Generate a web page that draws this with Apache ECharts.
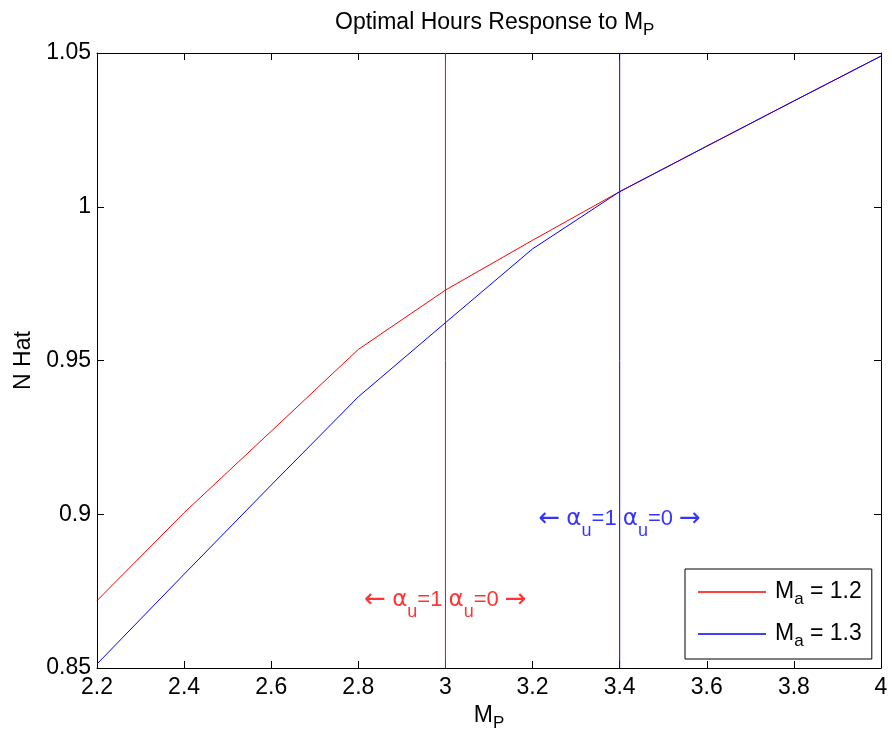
<!DOCTYPE html>
<html>
<head>
<meta charset="utf-8">
<script src="https://cdn.jsdelivr.net/npm/echarts@6/dist/echarts.min.js"></script>
<style>
html,body{margin:0;padding:0;background:#fff;}
#chart{width:892px;height:739px;}
</style>
</head>
<body>
<div id="chart"></div>
<script>
// ---- data ----
var mp = [2.2, 2.4, 2.6, 2.8, 3.0, 3.2, 3.4, 3.6, 3.8, 4.0];
var nHatMa12 = [0.8719, 0.9005, 0.9270, 0.9536, 0.9729, 0.9891, 1.0049, 1.0197, 1.0344, 1.0490];
var nHatMa13 = [0.8513, 0.8805, 0.9095, 0.9382, 0.9623, 0.9863, 1.0049, 1.0197, 1.0344, 1.0490];
var maValues = ['1.2', '1.3'];
var switchPoints = [3.0, 3.4];          // alpha_u switch thresholds (vertical lines)
var annotY = [0.872, 0.8984];           // vertical positions of the annotations
var xTicks = [2.2, 2.4, 2.6, 2.8, 3, 3.2, 3.4, 3.6, 3.8, 4];
var yTicks = [0.85, 0.9, 0.95, 1, 1.05];
var yRange = [0.85, 1.05];
var colors = ['#ff0000', '#0000ff'];

var FONT = "'Liberation Sans', Arial, Helvetica, sans-serif";
var SYM = "'DejaVu Sans', sans-serif";
function zip(xs, ys) { return xs.map(function (x, i) { return [x, ys[i]]; }); }

var chart = echarts.init(document.getElementById('chart'));

var axisCommon = {
  axisLine: { show: true, onZero: false, lineStyle: { color: '#000', width: 1 } },
  axisTick: { show: true, inside: true, length: 7, lineStyle: { color: '#000', width: 1 } },
  splitLine: { show: false }
};

var subRich = {
  m: { fontSize: 23, fontWeight: 'normal', fontFamily: FONT, color: '#000' },
  s: { fontSize: 17, fontWeight: 'normal', fontFamily: FONT, color: '#000', padding: [16, 0, 0, 0] }
};

function annotRich(color) {
  return {
    a: { fontSize: 26, fontFamily: SYM, color: color },
    g: { fontSize: 23, fontFamily: SYM, color: color },
    m: { fontSize: 22, fontFamily: FONT, color: color },
    s: { fontSize: 18, fontFamily: FONT, color: color, padding: [23, 0, 0, 0] }
  };
}

var seriesData = [nHatMa12, nHatMa13];
var series = [];
maValues.forEach(function (ma, i) {
  series.push({
    name: 'Ma = ' + ma,
    type: 'line',
    data: zip(mp, seriesData[i]),
    symbol: 'none',
    showSymbol: false,
    color: colors[i],
    lineStyle: { color: colors[i], width: 1 },
    itemStyle: { color: colors[i] },
    z: 3 + i
  });
  // vertical threshold line
  series.push({
    name: 'switch' + i,
    type: 'line',
    data: [[switchPoints[i], yRange[0]], [switchPoints[i], yRange[1]]],
    symbol: 'none',
    showSymbol: false,
    color: colors[i],
    lineStyle: { color: colors[i], width: 1 },
    silent: true,
    z: 2
  });
  series.push({
    name: 'annot' + i,
    type: 'scatter',
    data: [[switchPoints[i], annotY[i]]],
    symbolSize: 1,
    itemStyle: { color: 'rgba(0,0,0,0)' },
    silent: true,
    z: 10,
    label: {
      show: true,
      position: 'inside',
      fontSize: 22,
      fontFamily: FONT,
      color: colors[i],
      formatter: '{a|\u2190}{m| }{g|\u03b1}{s|u}{m|=1 }{g|\u03b1}{s|u}{m|=0 }{a|\u2192}',
      rich: annotRich(colors[i])
    }
  });
});

var option = {
  animation: false,
  backgroundColor: '#fff',
  textStyle: { fontFamily: FONT },
  title: {
    text: '{m|Optimal Hours Response to M}{s|P}',
    left: 335,
    top: 6,
    padding: 0,
    textStyle: { fontWeight: 'normal', fontSize: 23, rich: subRich }
  },
  grid: { left: 97, right: 11, top: 53, bottom: 71, containLabel: false },
  legend: {
    data: maValues.map(function (m) { return { name: 'Ma = ' + m, icon: 'rect' }; }),
    orient: 'vertical',
    left: 685,
    top: 569,
    padding: [11.5, 10, 9.5, 13],
    itemGap: 15,
    itemWidth: 68,
    itemHeight: 1.5,
    itemStyle: { borderWidth: 0 },
    borderColor: '#000',
    borderWidth: 1,
    borderRadius: 0,
    backgroundColor: '#fff',
    formatter: function (name) {
      return '{p|M}{s|a}{m| = ' + name.replace('Ma = ', '') + '}';
    },
    textStyle: {
      rich: {
        p: { fontSize: 23, fontFamily: FONT, color: '#000', padding: [0, 0, 0, 4] },
        m: { fontSize: 23, fontFamily: FONT, color: '#000' },
        s: { fontSize: 17, fontFamily: FONT, color: '#000', padding: [14, 0, 0, 0] }
      }
    }
  },
  xAxis: [
    Object.assign({
      type: 'value', min: 2.2, max: 4, interval: 0.2, position: 'bottom',
      name: '{m|M}{s|P}', nameLocation: 'middle', nameGap: 31,
      nameTextStyle: { rich: subRich },
      axisLabel: {
        show: true, margin: 8, fontSize: 23, fontFamily: FONT, color: '#000',
        formatter: function (v) {
          var t = xTicks.find(function (x) { return Math.abs(x - v) < 1e-6; });
          return t === undefined ? '' : String(t);
        }
      }
    }, axisCommon),
    Object.assign({
      type: 'value', min: 2.2, max: 4, interval: 0.2, position: 'top',
      axisLabel: { show: false }
    }, axisCommon)
  ],
  yAxis: [
    Object.assign({
      type: 'value', min: 0.85, max: 1.05, interval: 0.05, position: 'left',
      name: 'N Hat', nameLocation: 'middle', nameGap: 59,
      nameTextStyle: { fontSize: 23, fontFamily: FONT, color: '#000' },
      axisLabel: {
        show: true, margin: 6, fontSize: 23, fontFamily: FONT, color: '#000',
        formatter: function (v) {
          var t = yTicks.find(function (y) { return Math.abs(y - v) < 1e-6; });
          return t === undefined ? '' : String(t);
        }
      }
    }, axisCommon),
    Object.assign({
      type: 'value', min: 0.85, max: 1.05, interval: 0.05, position: 'right',
      axisLabel: { show: false }
    }, axisCommon)
  ],
  series: series
};

chart.setOption(option);
</script>
</body>
</html>
